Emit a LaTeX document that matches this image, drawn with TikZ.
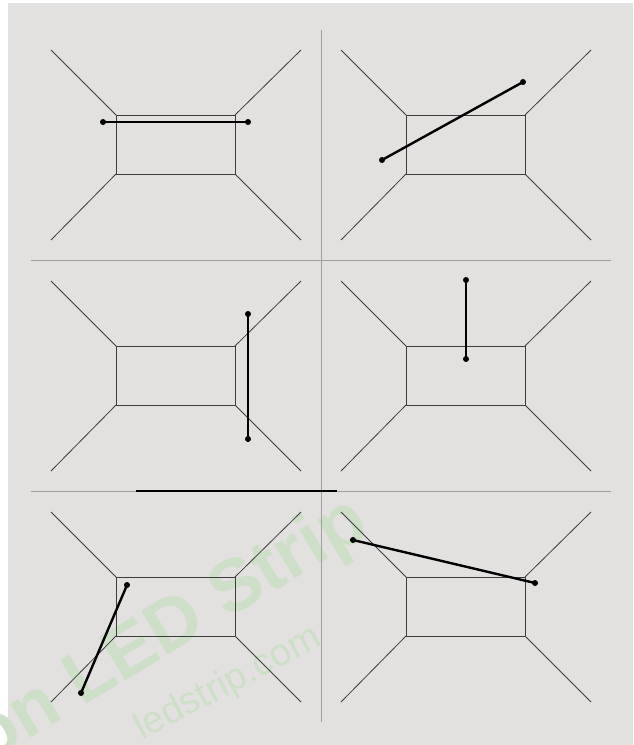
\documentclass[tikz,border=0pt]{standalone}
\usepackage{fontspec}
\newfontfamily\markfont{Liberation Sans}
\usepackage{tikz}
\usetikzlibrary{positioning}

\definecolor{panelgray}{RGB}{226,225,224}
\definecolor{wallink}{RGB}{60,60,60}
\definecolor{markgreen}{RGB}{206,223,200}

\tikzset{
  wall/.style={draw=wallink, line width=0.8pt},
  divider/.style={draw=gray!75, line width=1pt},
  stick/.style={draw=black, line width=2.4pt},
  endpt/.style={circle, fill=black, inner sep=0pt, minimum size=6pt},
}

\begin{document}
\begin{tikzpicture}[x=1pt,y=-1pt]
  \useasboundingbox (0,0) rectangle (633,745);
  \fill[panelgray] (8,3) rectangle (633,745);

  % watermark
  \node[markgreen, rotate=31, font=\markfont\bfseries\fontsize{74}{74}\selectfont] (mark) at (170,632) {on LED Strip};
  \node[markgreen, rotate=28, font=\markfont\fontsize{38}{38}\selectfont] (markurl) at (228,684) {ledstrip.com};

  % six rooms
  \foreach \dx/\dy in {0/0, 290/0, 0/231, 290/231, 0/462, 290/462}{
    \begin{scope}[shift={(\dx,\dy)}]
      \draw[wall] (116,115) rectangle (235,174);
      \draw[wall] (116,115) -- (51,50) (235,115) -- (301,50)
                  (116,174) -- (51,240) (235,174) -- (301,240);
    \end{scope}
  }

  % dividers
  \draw[divider] (321,30) -- (321,722);
  \draw[divider] (31,260) -- (611,260);
  \draw[divider] (31,491) -- (611,491);
  \draw[line width=1.4pt] (136,491) -- (337,491);

  % sticks
  \node[endpt] (s1a) at (103,122) {};
  \node[endpt] (s1b) at (248,122) {};
  \draw[stick] (s1a.center) -- (s1b.center);

  \node[endpt] (s2a) at (382,160) {};
  \node[endpt] (s2b) at (523,82) {};
  \draw[stick] (s2a.center) -- (s2b.center);

  \node[endpt] (s3a) at (248,314) {};
  \node[endpt] (s3b) at (248,439) {};
  \draw[stick] (s3a.center) -- (s3b.center);

  \node[endpt] (s4a) at (466,280) {};
  \node[endpt] (s4b) at (466,359) {};
  \draw[stick] (s4a.center) -- (s4b.center);

  \node[endpt] (s5a) at (127,585) {};
  \node[endpt] (s5b) at (81,693) {};
  \draw[stick] (s5a.center) -- (s5b.center);

  \node[endpt] (s6a) at (353,540) {};
  \node[endpt] (s6b) at (535,583) {};
  \draw[stick] (s6a.center) -- (s6b.center);
\end{tikzpicture}
\end{document}
